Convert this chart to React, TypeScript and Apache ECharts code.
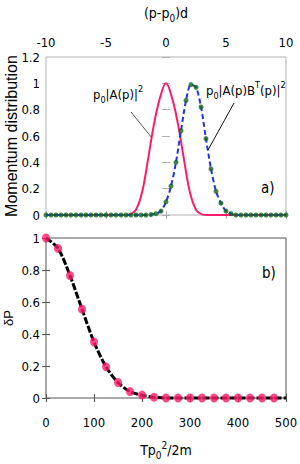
import React, { useEffect, useRef } from 'react';
import * as echarts from 'echarts';

// Panel a): momentum distributions
const pinkX = [-10, -3.5, -3, -2.5, -2, -1.5, -1, -0.5, 0, 0.5, 1, 1.5, 2, 2.5, 3, 3.5, 10];
const pinkY = [0, 0, 0.005, 0.04, 0.17, 0.42, 0.69, 0.89, 1.0, 0.89, 0.69, 0.42, 0.17, 0.04, 0.005, 0, 0];

const greenX = [-10, -9.58, -9.17, -8.75, -8.33, -7.92, -7.5, -7.08, -6.67, -6.25, -5.83, -5.42, -5, -4.58, -4.17, -3.75, -3.33, -2.92, -2.5, -2.08, -1.67, -1.25, -0.83, -0.42, 0, 0.42, 0.83, 1.25, 1.67, 2.08, 2.5, 2.92, 3.33, 3.75, 4.17, 4.58, 5, 5.42, 5.83, 6.25, 6.67, 7.08, 7.5, 7.92, 8.33, 8.75, 9.17, 9.58, 10];
const greenY = [0, 0, 0, 0, 0, 0, 0, 0, 0, 0, 0, 0, 0, 0, 0, 0, 0, 0, 0, 0, 0, 0.003, 0.01, 0.03, 0.1, 0.22, 0.4, 0.64, 0.87, 0.99, 0.97, 0.82, 0.58, 0.35, 0.18, 0.09, 0.03, 0.01, 0, 0, 0, 0, 0, 0, 0, 0, 0, 0, 0];

// Panel b): deltaP
const dpX = [0, 25, 50, 75, 100, 125, 150, 175, 200, 225, 250, 275, 300, 325, 350, 375, 400, 425, 450, 475];
const dpY = [1, 0.935, 0.765, 0.555, 0.35, 0.195, 0.097, 0.04, 0.018, 0.005, 0, 0, 0, 0, 0, 0, 0, 0, 0, 0];
const lineX = [0, 25, 50, 75, 100, 125, 150, 175, 200, 225, 250, 275, 300, 325, 350, 375, 400, 425, 450, 475, 500];
const lineY = [1, 0.935, 0.765, 0.555, 0.35, 0.195, 0.097, 0.04, 0.018, 0.005, 0, 0, 0, 0, 0, 0, 0, 0, 0, 0, 0];

const xTopTicks = { min: -10, max: 10, interval: 5 };
const yTopTicks = { min: 0, max: 1.2, interval: 0.2 };
const xBotTicks = { min: 0, max: 500, interval: 100 };
const yBotTicks = { min: 0, max: 1, interval: 0.2 };

const NARROW = "'Liberation Sans Narrow', 'Arial Narrow', 'DejaVu Sans Condensed', sans-serif";
const SANS = "'Liberation Sans', Arial, sans-serif";
const PINK = '#ff1a6c';
const BLUE = '#1f33e6';
const GREEN = '#11651c';

const zip = (xs: number[], ys: number[]) => xs.map((x, i) => [x, ys[i]]);

const richSub = (size: number) => ({
  base: { fontFamily: NARROW, fontSize: size, color: '#000', lineHeight: 20, verticalAlign: 'middle' },
  sub: { fontFamily: NARROW, fontSize: size - 4, color: '#000', lineHeight: 20, verticalAlign: 'bottom' },
  sup: { fontFamily: NARROW, fontSize: size - 4, color: '#000', lineHeight: 20, verticalAlign: 'top' },
});

export default function App() {
  const ref = useRef<HTMLDivElement>(null);
  useEffect(() => {
    if (!ref.current) return;
    const chart = echarts.init(ref.current, undefined, { renderer: 'svg' });
    const tickStyle = (c: string, show: boolean) => ({
      show,
      inside: true,
      length: 4,
      lineStyle: { color: c, width: 1 },
    });
    const labelStyle = (margin: number) => ({
      fontFamily: NARROW,
      fontSize: 13,
      color: '#000',
      margin,
    });
    chart.setOption({
      animation: false,
      grid: [
        { left: 46, right: 14, top: 57, height: 158, show: true, borderColor: '#b0b0b0', borderWidth: 1, containLabel: false, outerBoundsMode: 'none' },
        { left: 46, right: 14, top: 238, height: 160, show: true, borderColor: '#555', borderWidth: 1, containLabel: false, outerBoundsMode: 'none' },
      ],
      xAxis: [
        {
          gridIndex: 0, type: 'value', position: 'top', ...xTopTicks,
          axisLine: { show: false }, axisTick: tickStyle('#b0b0b0', true), splitLine: { show: false },
          axisLabel: labelStyle(8),
          name: '{base|(p-p}{sub|0}{base|)d}', nameLocation: 'middle', nameGap: 34,
          nameTextStyle: { rich: richSub(14) },
        },
        {
          gridIndex: 0, type: 'value', position: 'bottom', ...xTopTicks,
          axisLine: { show: false }, axisTick: tickStyle('#b0b0b0', true), splitLine: { show: false },
          axisLabel: { show: false },
        },
        {
          gridIndex: 1, type: 'value', position: 'bottom', ...xBotTicks,
          axisLine: { show: false }, axisTick: tickStyle('#555', true), splitLine: { show: false },
          axisLabel: labelStyle(18),
          name: '{base|Tp}{sub|0}{sup|2}{base|/2m}', nameLocation: 'middle', nameGap: 42,
          nameTextStyle: { rich: richSub(14) },
        },
        {
          gridIndex: 1, type: 'value', position: 'top', ...xBotTicks,
          axisLine: { show: false }, axisTick: tickStyle('#555', true), splitLine: { show: false },
          axisLabel: { show: false },
        },
      ],
      yAxis: [
        {
          gridIndex: 0, type: 'value', position: 'left', ...yTopTicks,
          axisLine: { show: false }, axisTick: tickStyle('#b0b0b0', true), splitLine: { show: false },
          axisLabel: labelStyle(6),
          name: 'Momentum distribution', nameLocation: 'middle', nameGap: 27, nameMoveOverlap: false,
          nameTextStyle: { fontFamily: SANS, fontSize: 16, color: '#000' },
        },
        {
          gridIndex: 0, type: 'value', position: 'right', ...yTopTicks,
          axisLine: { show: false }, axisTick: tickStyle('#b0b0b0', true), splitLine: { show: false },
          axisLabel: { show: false },
        },
        {
          gridIndex: 1, type: 'value', position: 'left', ...yBotTicks,
          axisLine: { show: false }, axisTick: tickStyle('#555', true), splitLine: { show: false },
          axisLabel: labelStyle(6),
          name: 'δP', nameLocation: 'middle', nameGap: 31, nameMoveOverlap: false,
          nameTextStyle: { fontFamily: SANS, fontSize: 13, color: '#000' },
        },
        {
          gridIndex: 1, type: 'value', position: 'right', ...yBotTicks,
          axisLine: { show: false }, axisTick: tickStyle('#555', true), splitLine: { show: false },
          axisLabel: { show: false },
        },
      ],
      series: [
        {
          type: 'line', xAxisIndex: 0, yAxisIndex: 0, data: zip(pinkX, pinkY),
          smooth: 0.4, showSymbol: false, symbol: 'none', clip: false,
          lineStyle: { color: PINK, width: 2 }, z: 3,
        },
        {
          type: 'line', xAxisIndex: 0, yAxisIndex: 0, data: zip(greenX, greenY),
          smooth: 0.3, showSymbol: false, symbol: 'none', clip: false,
          lineStyle: { color: BLUE, width: 2, type: [5, 3] }, z: 4,
        },
        {
          type: 'scatter', xAxisIndex: 0, yAxisIndex: 0, data: zip(greenX, greenY),
          symbol: 'circle', symbolSize: 5, clip: false,
          itemStyle: { color: GREEN }, z: 5,
        },
        {
          type: 'line', xAxisIndex: 2, yAxisIndex: 2, data: zip(lineX, lineY),
          smooth: 0.3, showSymbol: false, symbol: 'none', clip: false,
          lineStyle: { color: '#000', width: 3, type: [7, 2] }, z: 3,
        },
        {
          type: 'scatter', xAxisIndex: 2, yAxisIndex: 2, data: zip(dpX, dpY),
          symbol: 'circle', symbolSize: [8, 9], clip: false,
          itemStyle: { color: PINK }, z: 5,
        },
      ],
      graphic: [
        {
          type: 'text', x: 93, y: 94,
          style: {
            text: '{base|p}{sub|0}{base||A(p)|}{sup|2}',
            rich: richSub(13), verticalAlign: 'middle', align: 'left',
          },
          z: 10,
        },
        {
          type: 'text', x: 206, y: 90,
          style: {
            text: '{base|p}{sub|0}{base||A(p)B}{sup|T}{base|(p)|}{sup|2}',
            rich: richSub(13), verticalAlign: 'middle', align: 'left',
          },
          z: 10,
        },
        {
          type: 'line', shape: { x1: 131, y1: 112, x2: 152, y2: 138 },
          style: { stroke: '#555', lineWidth: 1 }, z: 10,
        },
        {
          type: 'line', shape: { x1: 234, y1: 103, x2: 208, y2: 150 },
          style: { stroke: '#111', lineWidth: 1 }, z: 10,
        },
        {
          type: 'text', x: 261, y: 188,
          style: { text: 'a)', fontFamily: NARROW, fontSize: 15, fill: '#000', verticalAlign: 'middle' },
        },
        {
          type: 'text', x: 262, y: 273,
          style: { text: 'b)', fontFamily: NARROW, fontSize: 15, fill: '#000', verticalAlign: 'middle' },
        },
      ],
    });
    return () => chart.dispose();
  }, []);
  return (
    <div
      ref={ref}
      style={{ position: 'fixed', left: 0, top: 0, width: 300, height: 464, background: '#fff' }}
    />
  );
}
